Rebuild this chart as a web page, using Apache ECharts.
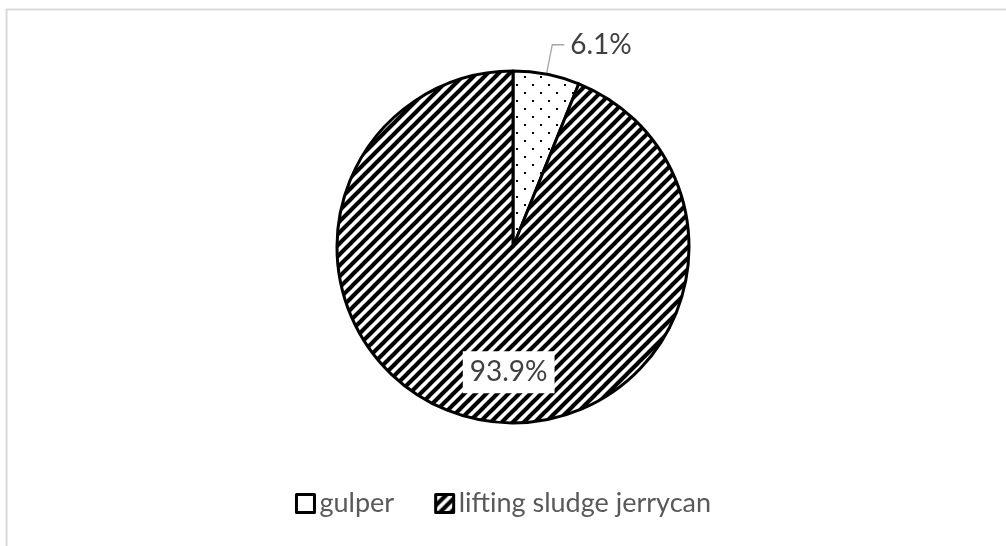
<!DOCTYPE html>
<html>
<head>
<meta charset="utf-8">
<script src="https://cdn.jsdelivr.net/npm/echarts@6/dist/echarts.min.js"></script>
<style>
  html, body { margin: 0; padding: 0; background: #ffffff; }
  #chart { width: 1006px; height: 546px; }
</style>
</head>
<body>
<div id="chart"></div>
<script>
// Share of each collection method (percent)
const categories = ['gulper', 'lifting sludge jerrycan'];
const shares = [6.1, 93.9];

// Diagonal hatch fill ("/" stripes): lines x + y = 0, s, 2s inside one tile
function makeStripes() {
  const s = 11;
  const c = document.createElement('canvas');
  c.width = s; c.height = s;
  const g = c.getContext('2d');
  g.fillStyle = '#ffffff';
  g.fillRect(0, 0, s, s);
  g.strokeStyle = '#000000';
  g.lineWidth = 4.1;
  g.beginPath();
  for (const k of [0, s, 2 * s]) {
    g.moveTo(k + 4, -4);
    g.lineTo(-4, k + 4);
  }
  g.stroke();
  return c;
}

// Sparse staggered dot fill
function makeDots() {
  const c = document.createElement('canvas');
  c.width = 16; c.height = 16;
  const g = c.getContext('2d');
  g.fillStyle = '#ffffff';
  g.fillRect(0, 0, 16, 16);
  g.fillStyle = '#000000';
  g.fillRect(4, 4, 2, 2);
  g.fillRect(12, 12, 2, 2);
  return c;
}

const stripeFill = { image: makeStripes(), repeat: 'repeat' };
const dotFill = { image: makeDots(), repeat: 'repeat' };
const fills = [dotFill, stripeFill];

const FONT = 'Lato, "Open Sans", sans-serif';

const chart = echarts.init(document.getElementById('chart'), null, { renderer: 'canvas' });

chart.setOption({
  animation: false,
  backgroundColor: '#ffffff',
  graphic: [{
    type: 'rect',
    shape: { x: 6.5, y: 9.5, width: 1100, height: 700 },
    style: { fill: 'none', stroke: '#d9d9d9', lineWidth: 2 },
    silent: true
  }],
  legend: {
    bottom: 24,
    left: 'center',
    icon: 'rect',
    itemWidth: 18,
    itemHeight: 18,
    itemGap: 40,
    textStyle: { fontFamily: FONT, fontSize: 27, color: '#595959' },
    data: [
      { name: categories[0], itemStyle: { color: '#ffffff', borderColor: '#000000', borderWidth: 3 } },
      { name: categories[1], itemStyle: { color: stripeFill, borderColor: '#000000', borderWidth: 3 } }
    ]
  },
  series: [{
    type: 'pie',
    center: [513, 247],
    radius: 176,
    startAngle: 90,
    clockwise: true,
    avoidLabelOverlap: false,
    itemStyle: { borderColor: '#000000', borderWidth: 3 },
    label: {
      fontFamily: FONT,
      fontSize: 28,
      color: '#404040',
      formatter: '{c}%'
    },
    labelLine: {
      length: 30,
      length2: 12,
      lineStyle: { color: '#a6a6a6', width: 1.3 }
    },
    labelLayout: function (p) {
      return p.dataIndex === 1 ? { dx: 13, dy: 36 } : {};
    },
    data: categories.map((name, i) => ({
      name: name,
      value: shares[i],
      itemStyle: { color: fills[i] },
      label: i === 0
        ? { position: 'outside', distanceToLabelLine: 6 }
        : { position: 'inside', backgroundColor: '#ffffff', padding: [8, 7, 6, 7] }
    }))
  }]
});
</script>
</body>
</html>
